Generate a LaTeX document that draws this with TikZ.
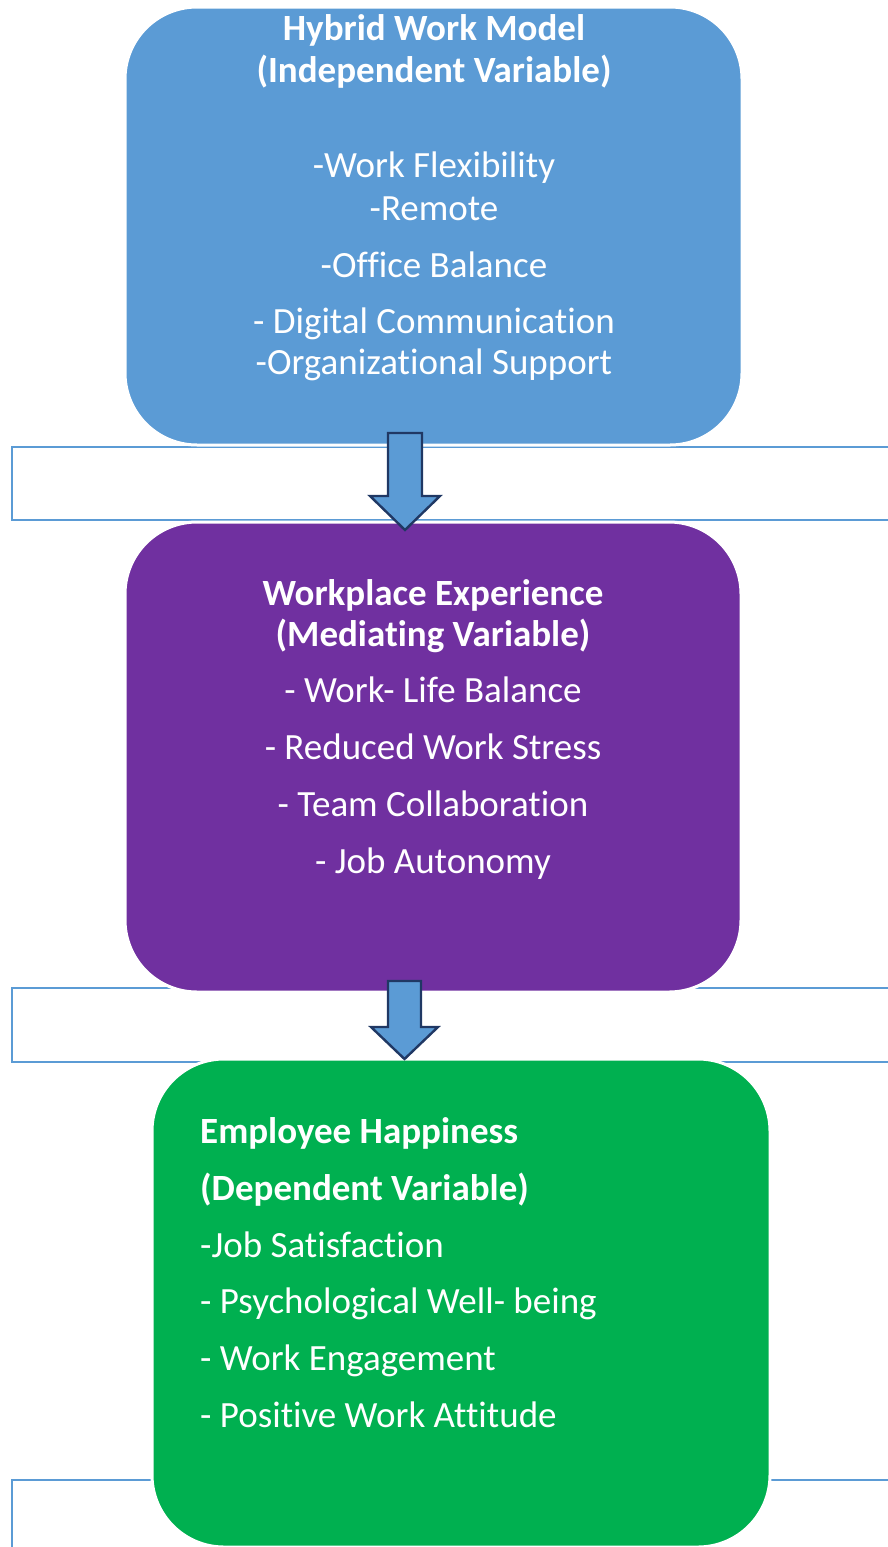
\documentclass[tikz,border=0pt]{standalone}
\usepackage{fontspec}
\setmainfont[Ligatures={NoCommon}]{Carlito}
\usetikzlibrary{calc}
\definecolor{boxblue}{HTML}{5B9BD5}
\definecolor{boxpurple}{HTML}{7030A0}
\definecolor{boxgreen}{HTML}{00B050}
\definecolor{arrowedge}{HTML}{203864}
\begin{document}
\begin{tikzpicture}[x=1pt,y=-1pt,
  band/.style={draw=boxblue, line width=2.8pt},
  panel/.style={draw=white, line width=3pt, rounded corners=72pt, inner sep=0pt},
  label/.style={text=white, inner sep=0pt, anchor=base, font=\fontsize{37}{44}\selectfont},
  heading/.style={label, font=\fontsize{37}{44}\selectfont\bfseries},
  blockarrow/.style={fill=boxblue, draw=arrowedge, line width=2.4pt, line join=miter}]
\useasboundingbox (0,0) rectangle (888,1547);
\clip (0,0) rectangle (888,1547);

% open frames behind the three stages
\draw[band] (12,447) rectangle (900,520);
\draw[band] (12,988) rectangle (900,1062);
\draw[band] (12,1480) rectangle (900,1600);

% stage panels
\node[panel, fill=boxblue, minimum width=617pt, minimum height=438pt] (hybrid) at (433.5,226) {};
\node[panel, fill=boxpurple, minimum width=616pt, minimum height=470pt] (workplace) at (433,757) {};
\node[panel, fill=boxgreen, minimum width=618pt, minimum height=488pt] (happiness) at (461,1303) {};

% independent variable
\node[heading] (h1) at (434,40) {Hybrid Work Model};
\node[heading] (h2) at (434,82) {(Independent Variable)};
\node[label] (h3) at (434,177) {-Work Flexibility};
\node[label] (h4) at (434,220) {-Remote};
\node[label] (h5) at (434,277) {-Office Balance};
\node[label] (h6) at (434,333) {- Digital Communication};
\node[label] (h7) at (434,374) {-Organizational Support};

% mediating variable
\node[heading] (w1) at (433,605) {Workplace Experience};
\node[heading] (w2) at (433,646) {(Mediating Variable)};
\node[label] (w3) at (433,702) {- Work- Life Balance};
\node[label] (w4) at (433,759) {- Reduced Work Stress};
\node[label] (w5) at (433,816) {- Team Collaboration};
\node[label] (w6) at (433,873) {- Job Autonomy};

% dependent variable
\node[heading, anchor=base west] (e1) at (200,1143) {Employee Happiness};
\node[heading, anchor=base west] (e2) at (200,1200) {(Dependent Variable)};
\node[label, anchor=base west] (e3) at (200,1257) {-Job Satisfaction};
\node[label, anchor=base west] (e4) at (200,1313) {- Psychological Well- being};
\node[label, anchor=base west] (e5) at (200,1370) {- Work Engagement};
\node[label, anchor=base west] (e6) at (200,1427) {- Positive Work Attitude};

% block arrows between the stages
\coordinate (a1top) at (405,433);
\coordinate (a1tip) at (405,530);
\draw[blockarrow] ($(a1top)+(-17,0)$) -- ($(a1top)+(17,0)$) -- ($(a1tip)+(17,-34)$)
  -- ($(a1tip)+(35,-34)$) -- (a1tip) -- ($(a1tip)+(-35,-34)$) -- ($(a1tip)+(-17,-34)$) -- cycle;
\coordinate (a2top) at (404.5,981);
\coordinate (a2tip) at (404.5,1059);
\draw[blockarrow] ($(a2top)+(-16.5,0)$) -- ($(a2top)+(16.5,0)$) -- ($(a2tip)+(16.5,-32)$)
  -- ($(a2tip)+(33.5,-32)$) -- (a2tip) -- ($(a2tip)+(-33.5,-32)$) -- ($(a2tip)+(-16.5,-32)$) -- cycle;
\end{tikzpicture}
\end{document}
